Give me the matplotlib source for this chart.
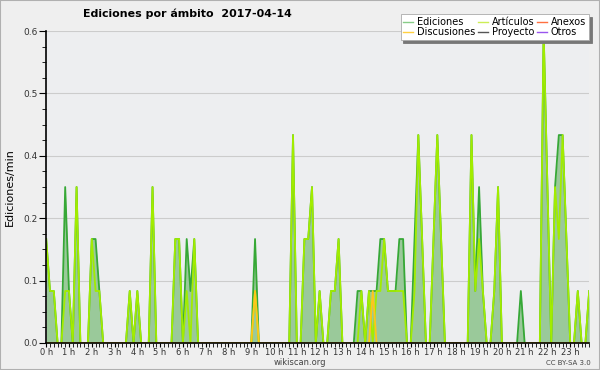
import numpy as np
import matplotlib
matplotlib.use('Agg')
import matplotlib.pyplot as plt
from matplotlib.lines import Line2D
from matplotlib.patches import Rectangle

# ediciones por franja de 10 minutos (144 franjas)
ediciones = [
    0.2, 0.1, 0.1, 0, 0, 0.3, 0.1, 0, 0.3, 0, 0, 0,            # 0-11
    0.2, 0.2, 0.1, 0, 0, 0, 0, 0, 0, 0, 0.1, 0,                # 12-23
    0.1, 0, 0, 0, 0.3, 0, 0, 0, 0, 0, 0.2, 0.2,                # 24-35
    0, 0.2, 0.1, 0.2, 0, 0, 0, 0, 0, 0, 0, 0,                  # 36-47
    0, 0, 0, 0, 0, 0, 0, 0.2, 0, 0, 0, 0,                      # 48-59
    0, 0, 0, 0, 0, 0.4, 0, 0, 0.2, 0.2, 0.3, 0,                # 60-71
    0.1, 0, 0, 0.1, 0.1, 0.2, 0, 0, 0, 0, 0.1, 0.1,            # 72-83
    0, 0.1, 0.1, 0.1, 0.2, 0.2, 0.1, 0.1, 0.1, 0.2, 0.2, 0,    # 84-95
    0, 0.2, 0.4, 0.2, 0, 0, 0.2, 0.4, 0.2, 0, 0, 0,            # 96-107
    0, 0, 0, 0, 0.4, 0.1, 0.3, 0.1, 0, 0, 0.1, 0.3,            # 108-119
    0, 0, 0, 0, 0, 0.1, 0, 0, 0, 0, 0, 0.6,                    # 120-131
    0.3, 0, 0.3, 0.4, 0.4, 0.2, 0, 0, 0.1, 0, 0, 0.1,          # 132-143
]
articulos = [
    0.2, 0.1, 0.1, 0, 0, 0.1, 0.1, 0, 0.3, 0, 0, 0,
    0.2, 0.1, 0.1, 0, 0, 0, 0, 0, 0, 0, 0.1, 0,
    0.1, 0, 0, 0, 0.3, 0, 0, 0, 0, 0, 0.2, 0.2,
    0, 0.1, 0, 0.2, 0, 0, 0, 0, 0, 0, 0, 0,
    0, 0, 0, 0, 0, 0, 0, 0.1, 0, 0, 0, 0,
    0, 0, 0, 0, 0, 0.4, 0, 0, 0.2, 0.2, 0.3, 0,
    0.1, 0, 0, 0.1, 0.1, 0.2, 0, 0, 0, 0, 0, 0.1,
    0, 0.1, 0, 0.1, 0.1, 0.2, 0.1, 0.1, 0.1, 0.1, 0.1, 0,
    0, 0.1, 0.4, 0.2, 0, 0, 0.2, 0.4, 0.2, 0, 0, 0,
    0, 0, 0, 0, 0.4, 0.1, 0.2, 0.1, 0, 0, 0.1, 0.3,
    0, 0, 0, 0, 0, 0, 0, 0, 0, 0, 0, 0.6,
    0.3, 0, 0.3, 0.2, 0.4, 0.2, 0, 0, 0.1, 0, 0, 0.1,
]
discusiones = [0] * 144
discusiones[55] = 0.1
discusiones[86] = 0.1

horas = np.arange(len(ediciones)) / 6.0
hour_labels = ['%d h' % h for h in range(24)]

fig = plt.figure(figsize=(6, 3.7), dpi=100, facecolor='#efefef')
ax = fig.add_axes([0.077, 0.073, 0.905, 0.843])
ax.set_facecolor('#edeef0')

ax.fill_between(horas, ediciones, color='#9ac99a', lw=0, zorder=1)
ax.plot(horas, ediciones, color='#36a836', lw=1.3, zorder=2)
ax.plot(horas, articulos, color='#a2ec00', lw=1.3, zorder=2)
ax.plot(horas, discusiones, color='#ffc61a', lw=1.3, zorder=2)

ax.set_xlim(0, horas[-1])
ax.set_ylim(0, 0.6)
ax.set_yticks(np.arange(0, 0.61, 0.12))
ax.set_yticklabels(['%.1f' % v for v in np.arange(0, 0.61, 0.12)])
ax.set_yticks(np.arange(0, 0.61, 0.03), minor=True)
ax.set_xticks(range(24))
ax.set_xticklabels(hour_labels)
ax.set_xticks(horas, minor=True)
ax.grid(axis='y', color='#cccccc', lw=0.8, zorder=0)
ax.set_axisbelow(True)

for s in ['top', 'right']:
    ax.spines[s].set_visible(False)
ax.spines['left'].set_linewidth(1.2)
ax.spines['bottom'].set_linewidth(1.2)
ax.tick_params(axis='y', which='major', length=5, labelsize=6.5, pad=1, labelcolor='#333333')
ax.tick_params(axis='y', which='minor', length=3)
ax.tick_params(axis='x', which='major', length=3, labelsize=6, pad=0.5, labelcolor='#333333')
ax.tick_params(axis='x', which='minor', length=3)

ax.set_ylabel('Ediciones/min', fontsize=8, labelpad=6)
fig.text(0.313, 0.962, 'Ediciones por ámbito  2017-04-14', fontsize=7.9,
         fontweight='bold', ha='center', va='center')
fig.text(0.5, 0.02, 'wikiscan.org', fontsize=6, ha='center', va='center', color='#444444')
fig.text(0.985, 0.02, 'CC BY-SA 3.0', fontsize=5, ha='right', va='center', color='#444444')

handles = [
    Line2D([], [], color='#88cc88', lw=1),
    Line2D([], [], color='#ffd040', lw=1),
    Line2D([], [], color='#ccee55', lw=1),
    Line2D([], [], color='#555555', lw=1),
    Line2D([], [], color='#ff7040', lw=1),
    Line2D([], [], color='#9955ee', lw=1),
]
labels = ['Ediciones', 'Discusiones', 'Artículos', 'Proyecto', 'Anexos', 'Otros']
leg = fig.legend(handles, labels, ncol=3, loc='upper right',
                 bbox_to_anchor=(0.99, 0.975), fontsize=7, frameon=True,
                 fancybox=False, handlelength=1.0, handletextpad=0.4,
                 columnspacing=0.3, labelspacing=0.0, borderpad=0.3,
                 shadow={'color': '#777777', 'alpha': 1, 'ox': 2, 'oy': -2})
leg.get_frame().set_edgecolor('#aaaaaa')
leg.get_frame().set_linewidth(0.6)

fig.patches.append(Rectangle((0, 0), 1, 1, transform=fig.transFigure, fill=False,
                             edgecolor='#b0b0b0', lw=1.5))

fig.savefig('out.png', dpi=100, facecolor=fig.get_facecolor())
